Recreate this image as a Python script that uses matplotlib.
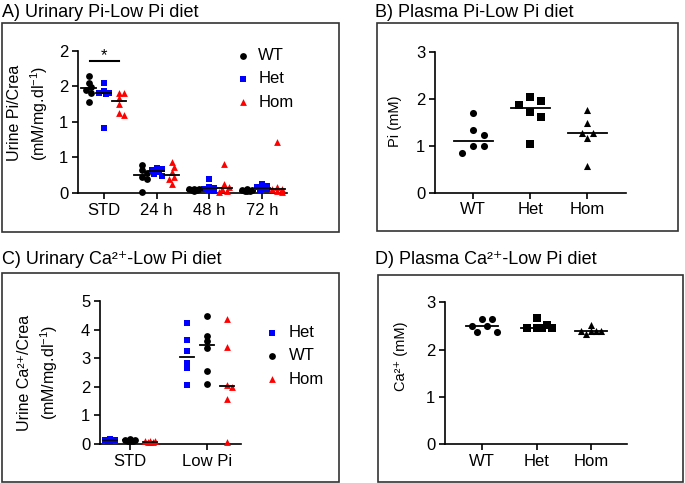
import numpy as np
import matplotlib
matplotlib.use("Agg")
import matplotlib.pyplot as plt
from matplotlib.patches import Rectangle

plt.rcParams["font.family"] = ["Liberation Sans", "DejaVu Sans"]
plt.rcParams["mathtext.fontset"] = "custom"
plt.rcParams["mathtext.rm"] = "Liberation Sans"
plt.rcParams["mathtext.default"] = "regular"

# ---- data ----
# A) urinary Pi / creatinine
time_labels = ["STD", "24 h", "48 h", "72 h"]
upi_wt = [
    [1.64, 1.55, 1.49, 1.45, 1.40, 1.28],
    [0.39, 0.32, 0.28, 0.23, 0.20, 0.01],
    [0.06, 0.05, 0.05, 0.04, 0.04, 0.03],
    [0.05, 0.04, 0.04, 0.03, 0.03, 0.03],
]
upi_het = [
    [1.55, 1.43, 1.41, 1.40, 1.39, 0.92],
    [0.35, 0.34, 0.32, 0.30, 0.27, 0.24],
    [0.20, 0.09, 0.07, 0.06, 0.04, 0.03],
    [0.12, 0.10, 0.08, 0.06, 0.05, 0.04],
]
upi_hom = [
    [1.41, 1.40, 1.33, 1.25, 1.12, 1.10],
    [0.43, 0.37, 0.29, 0.23, 0.19, 0.12],
    [0.41, 0.12, 0.09, 0.06, 0.03, 0.02],
    [0.71, 0.08, 0.06, 0.05, 0.03, 0.02],
]
upi_ticks = [0, 0.5, 1.0, 1.5, 2.0]
upi_ticklabels = ["0", "1", "1", "2", "2"]

# B) plasma Pi
genotypes = ["WT", "Het", "Hom"]
ppi_wt = [1.71, 1.33, 1.23, 1.00, 1.00, 0.84]
ppi_het = [2.05, 1.96, 1.88, 1.72, 1.62, 1.03]
ppi_hom = [1.77, 1.50, 1.28, 1.28, 1.16, 0.58]

# C) urinary Ca2+ / creatinine
diet_labels = ["STD", "Low Pi"]
uca_het = [
    [0.17, 0.15, 0.14, 0.13, 0.12, 0.11],
    [4.24, 3.63, 3.25, 2.84, 2.66, 2.05],
]
uca_wt = [
    [0.16, 0.14, 0.13, 0.12, 0.11, 0.10],
    [4.49, 3.79, 3.60, 3.35, 2.54, 2.09],
]
uca_hom = [
    [0.12, 0.10, 0.09, 0.08, 0.07, 0.06],
    [4.38, 3.38, 2.07, 1.98, 1.56, 0.08],
]

# D) plasma Ca2+
pca_wt = [2.65, 2.65, 2.50, 2.49, 2.37, 2.38]
pca_het = [2.66, 2.52, 2.45, 2.45, 2.45, 2.45]
pca_hom = [2.51, 2.39, 2.39, 2.39, 2.39, 2.33]

BLUE = "#0000ff"
RED = "#ff0000"
BLACK = "#000000"

W, H = 685, 483
fig = plt.figure(figsize=(W / 100, H / 100), dpi=100)


def px_axes(l, t, r, b):
    return fig.add_axes([l / W, 1 - b / H, (r - l) / W, (b - t) / H])


def style(ax):
    for s in ["top", "right"]:
        ax.spines[s].set_visible(False)
    for s in ["left", "bottom"]:
        ax.spines[s].set_linewidth(1.2)
    ax.tick_params(direction="out", length=4, width=1.2, labelsize=12, pad=3)


def swarm(ax, x0, values, d, max_off):
    # simple beeswarm in pixel space, capped width (points may overlap)
    trans = ax.transData
    ys = trans.transform(np.column_stack([np.full(len(values), x0), values]))[:, 1]
    ppx = trans.transform([[1, 0]])[0, 0] - trans.transform([[0, 0]])[0, 0]
    cands = [0.0]
    k = 1
    while k * d / 2 <= max_off + 1e-9:
        cands += [k * d / 2, -k * d / 2]
        k += 1
    placed = []
    xs = np.zeros(len(values))
    for i in np.argsort(values)[::-1]:
        best, best_gap = 0.0, -1
        for c in cands:
            gap = min([np.hypot(c - px, ys[i] - py) for px, py in placed] or [1e9])
            if gap >= d * 0.95:
                best = c
                break
            if gap > best_gap:
                best, best_gap = c, gap
        placed.append((best, ys[i]))
        xs[i] = x0 + best / ppx
    return xs


def group(ax, x0, values, marker, color, half, d, max_off, s=24, label=None):
    xs = swarm(ax, x0, values, d, max_off)
    h = ax.scatter(xs, values, marker=marker, s=s, color=color, lw=0,
                   zorder=3, clip_on=False, label=label)
    m = np.median(values)
    ax.plot([x0 - half, x0 + half], [m, m], color="black", lw=1.3, zorder=4)
    return h


def box(l, t, r, b):
    fig.add_artist(Rectangle((l / W, 1 - b / H), (r - l) / W, (b - t) / H,
                             transform=fig.transFigure, fill=False,
                             lw=1.2, ec="#333333"))


def title(x, y, txt):
    fig.text(x / W, 1 - y / H, txt, fontsize=13, va="baseline", ha="left")


# ---- panel A ----
axA = px_axes(78, 50.7, 287, 193)
style(axA)
axA.set_xlim(-0.49, 3.47)
axA.set_ylim(0, 2.0)
axA.set_yticks(upi_ticks)
axA.set_yticklabels(upi_ticklabels)
axA.set_xticks(range(len(time_labels)))
axA.set_xticklabels(time_labels)
off = 0.285
hs = []
for i in range(len(time_labels)):
    a = group(axA, i - off, upi_wt[i], "o", BLACK, 0.14, 5, 6, label="WT")
    b = group(axA, i, upi_het[i], "s", BLUE, 0.14, 5, 6, label="Het")
    c = group(axA, i + off, upi_hom[i], "^", RED, 0.14, 5, 6, label="Hom")
    if i == 0:
        hs = [a, b, c]
axA.plot([-0.27, 0.28], [1.85, 1.85], color="black", lw=1.5, clip_on=False)
axA.text(0, 1.93, "*", ha="center", va="center", fontsize=12)
axA.set_ylabel("Urine Pi/Crea\n(mM/mg.dl$^{-1}$)", fontsize=11.5, linespacing=1.4)
axA.yaxis.set_label_coords(-0.134, 0.56)
axA.legend(handles=hs, loc="upper left", bbox_to_anchor=(235 / W, 1 - 48 / H),
           bbox_transform=fig.transFigure, frameon=False, fontsize=12,
           handlelength=1.0, handletextpad=0.4, labelspacing=0.5, borderpad=0,
           borderaxespad=0)

# ---- panel B ----
axB = px_axes(435, 52.3, 626, 192.7)
style(axB)
axB.set_xlim(-0.67, 2.68)
axB.set_ylim(0, 3)
axB.set_yticks([0, 1, 2, 3])
axB.set_xticks(range(len(genotypes)))
axB.set_xticklabels(genotypes)
for i, (vals, mk) in enumerate(zip([ppi_wt, ppi_het, ppi_hom], ["o", "s", "^"])):
    group(axB, i, vals, mk, BLACK, 0.34, 11, 14, s=26)
axB.set_ylabel("Pi (mM)", fontsize=10.5)
axB.yaxis.set_label_coords(-0.173, 0.51)

# ---- panel C ----
axC = px_axes(100, 301, 241, 444)
style(axC)
axC.set_xlim(-0.39, 1.44)
axC.set_ylim(0, 5)
axC.set_yticks([0, 1, 2, 3, 4, 5])
axC.set_xticks(range(len(diet_labels)))
axC.set_xticklabels(diet_labels)
off = 0.26
hs = []
for i in range(len(diet_labels)):
    a = group(axC, i - off, uca_het[i], "s", BLUE, 0.09, 5, 6, label="Het")
    b = group(axC, i, uca_wt[i], "o", BLACK, 0.09, 5, 6, label="WT")
    c = group(axC, i + off, uca_hom[i], "^", RED, 0.09, 5, 6, label="Hom")
    if i == 0:
        hs = [a, b, c]
axC.set_ylabel("Urine Ca²⁺/Crea\n(mM/mg.dl$^{-1}$)", fontsize=11.5, linespacing=1.4)
axC.yaxis.set_label_coords(-0.284, 0.5)
axC.legend(handles=hs, loc="upper left", bbox_to_anchor=(264 / W, 1 - 325 / H),
           bbox_transform=fig.transFigure, frameon=False, fontsize=12,
           handlelength=1.0, handletextpad=0.5, labelspacing=0.5, borderpad=0,
           borderaxespad=0)

# ---- panel D ----
axD = px_axes(445, 302.3, 627, 444)
style(axD)
axD.set_xlim(-0.68, 2.66)
axD.set_ylim(0, 3)
axD.set_yticks([0, 1, 2, 3])
axD.set_xticks(range(len(genotypes)))
axD.set_xticklabels(genotypes)
for i, (vals, mk) in enumerate(zip([pca_wt, pca_het, pca_hom], ["o", "s", "^"])):
    group(axD, i, vals, mk, BLACK, 0.29, 10, 17, s=26)
axD.set_ylabel("Ca²⁺ (mM)", fontsize=10.5)
axD.yaxis.set_label_coords(-0.203, 0.62)

# ---- frames and titles ----
box(2, 23, 339, 232)
box(377, 23, 678, 231)
box(2, 273, 339, 482)
box(378, 275, 683, 482)
title(2, 17, "A) Urinary Pi-Low Pi diet")
title(375, 17, "B) Plasma Pi-Low Pi diet")
title(2, 264, "C) Urinary Ca²⁺-Low Pi diet")
title(375, 264, "D) Plasma Ca²⁺-Low Pi diet")

fig.savefig("out.png", dpi=100)
